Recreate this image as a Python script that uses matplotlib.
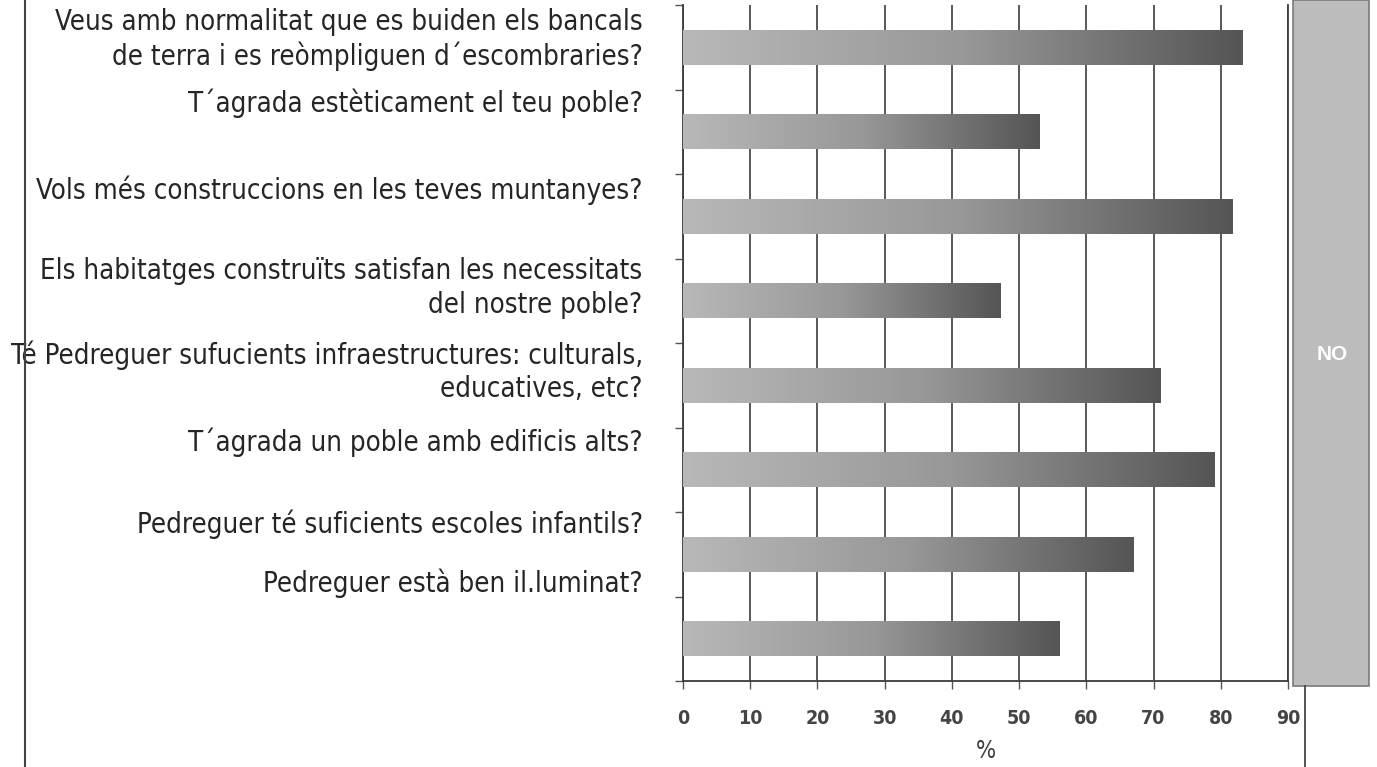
import numpy as np
import matplotlib.pyplot as plt
from matplotlib.colors import LinearSegmentedColormap
from matplotlib.patches import Rectangle
from matplotlib.lines import Line2D

questions = [
    "Veus amb normalitat que es buiden els bancals\nde terra i es reòmpliguen d´escombraries?",
    "T´agrada estèticament el teu poble?",
    "Vols més construccions en les teves muntanyes?",
    "Els habitatges construïts satisfan les necessitats\ndel nostre poble?",
    "Té Pedreguer sufucients infraestructures: culturals,\neducatives, etc?",
    "T´agrada un poble amb edificis alts?",
    "Pedreguer té suficients escoles infantils?",
    "Pedreguer està ben il.luminat?",
]
values = [83.2, 53.1, 81.8, 47.3, 71.1, 79.0, 67.0, 56.0]
xticks = [0, 10, 20, 30, 40, 50, 60, 70, 80, 90]

# label offsets above each bar (in category units), as laid out in the original
label_shift = [-0.09, -0.34, -0.31, -0.15, -0.16, -0.32, -0.36, -0.66]

W, H = 1377, 767
fig = plt.figure(figsize=(W / 100, H / 100), dpi=100)
ax = fig.add_axes([683 / W, 1 - 681 / H, 605 / W, 676 / H])

pos = np.arange(len(values))
bars = ax.barh(pos, values, height=0.42, color='none', edgecolor='none', zorder=3)

cmap = LinearSegmentedColormap.from_list('bar', ['#b8b8b8', '#989898', '#555555'])
grad = np.linspace(0, 1, 256).reshape(1, -1)
for b in bars:
    x0, y0, w, h = b.get_x(), b.get_y(), b.get_width(), b.get_height()
    im = ax.imshow(grad, cmap=cmap, extent=(x0, x0 + w, y0 + h, y0),
                   aspect='auto', zorder=3, interpolation='bilinear')
    im.set_clip_path(b)

ax.set_xlim(0, 90)
ax.set_ylim(len(values) - 0.5, -0.5)
ax.set_xticks(xticks)
ax.set_xticklabels([str(t) for t in xticks], family='DejaVu Sans', stretch='condensed',
                   fontweight='bold', fontsize=14, color='#444444')
ax.set_yticks(np.arange(-0.5, len(values), 1))
ax.set_yticklabels([])
ax.tick_params(axis='y', length=6, width=1, color='#555555', direction='out')
ax.tick_params(axis='x', length=6, width=1, color='#555555', direction='out', pad=14)
ax.xaxis.grid(True, color='#3c3c3c', lw=1.2)
ax.set_axisbelow(True)
ax.spines['top'].set_visible(False)
for s in ['left', 'bottom', 'right']:
    ax.spines[s].set_color('#3c3c3c')
    ax.spines[s].set_linewidth(1.3)
ax.set_xlabel('%', fontsize=17, color='#3a3a3a', labelpad=8,
              family='DejaVu Sans', stretch='condensed')

for i, q in enumerate(questions):
    ax.text(-6.0, i + label_shift[i], q, ha='right', va='center', multialignment='right',
            fontsize=19.8, family='DejaVu Sans', stretch='condensed', color='#252525',
            linespacing=1.25, clip_on=False)

# "NO" panel on the right
fig.patches.append(Rectangle((1293 / W, 1 - 686 / H), 76 / W, 686 / H,
                             transform=fig.transFigure, facecolor='#bcbcbc',
                             edgecolor='#7a7a7a', lw=1.2))
fig.text(1332 / W, 1 - 355 / H, 'NO', color='white', fontweight='bold', fontsize=15,
         ha='center', va='center', family='Liberation Sans')

# frame lines of the scanned page
fig.lines.append(Line2D([25 / W, 25 / W], [0, 1], transform=fig.transFigure,
                        color='#444444', lw=1.5))
fig.lines.append(Line2D([1305 / W, 1305 / W], [0, 1 - 686 / H], transform=fig.transFigure,
                        color='#444444', lw=1.3))

fig.savefig('out.png', dpi=100, facecolor='white')
